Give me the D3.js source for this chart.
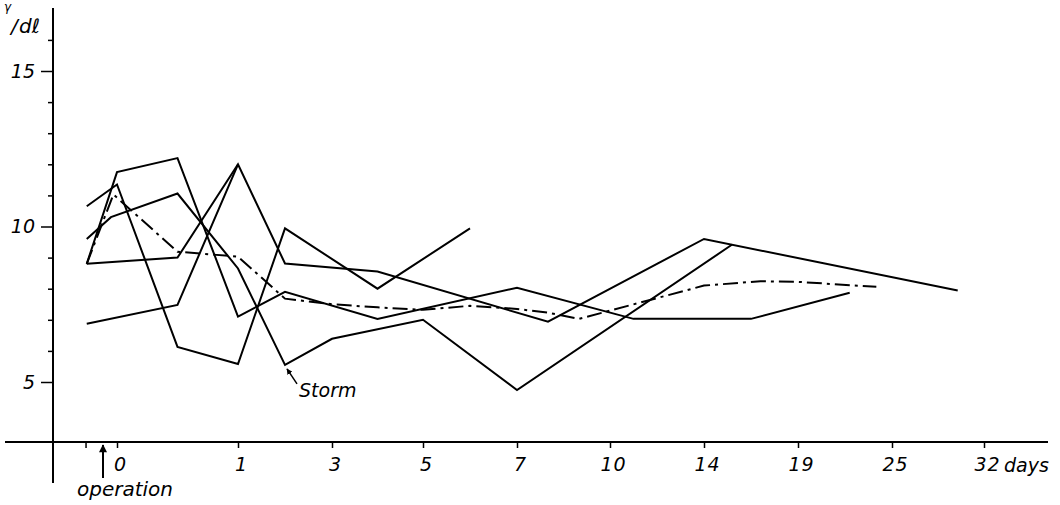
<!DOCTYPE html>
<html>
<head>
<meta charset="utf-8">
<script src="https://cdn.jsdelivr.net/npm/d3@7"></script>
<style>
  body { margin: 0; background: #fff; }
  svg text { font-family: "DejaVu Sans", sans-serif; font-style: italic; fill: #000; }
</style>
</head>
<body>
<div id="wrapper"></div>
<script>
// Axis ticks
const xTickDays = [0, 1, 3, 5, 7, 10, 14, 19, 25, 32]
const xTickLabels = ["0", "1", "3", "5", "7", "10", "14", "19", "25", "32"]
const yTickValues = [5, 6, 7, 8, 9, 10, 11, 12, 13, 14, 15, 16]
const yLabeled = [5, 10, 15]

// Series (day, value)
const daysA = [-0.25, 0, 0.5, 1, 2, 4, 7, 11, 16.5, 22.3]
const valsA = [8.8, 11.75, 12.2, 7.1, 7.9, 7.03, 8.03, 7.03, 7.03, 7.87]

const daysB = [-0.25, 0, 0.5, 1, 2, 4, 6]
const valsB = [10.65, 11.35, 6.13, 5.58, 9.94, 8.0, 9.94]

const daysStorm = [-0.25, -0.05, 0.5, 1, 2, 3, 5, 7, 15.5]
const valsStorm = [9.6, 10.3, 11.06, 8.65, 5.55, 6.39, 7.0, 4.74, 9.42]

const daysD = [-0.25, 0.5, 1, 2, 4, 8, 14, 30]
const valsD = [8.8, 9.0, 12.0, 8.81, 8.55, 6.94, 9.6, 7.94]

const daysE = [-0.25, 0.5, 1]
const valsE = [6.87, 7.48, 12.0]

const daysMean = [-0.25, -0.03, 0.5, 1, 2, 3, 4, 5, 6, 7, 8, 9, 14, 17, 19, 24]
const valsMean = [8.8, 11.03, 9.19, 9.03, 7.68, 7.5, 7.4, 7.32, 7.45, 7.35, 7.23, 7.03, 8.1, 8.24, 8.22, 8.06]

const stormDay = 2, stormVal = 5.55

async function drawChart() {
    const width = 1060, height = 505

    const wrapper = d3.select("#wrapper")
        .append("svg")
            .attr("width", width)
            .attr("height", height)

    // scales: the day axis is stretched unevenly between its labels
    const xScale = d3.scaleLinear()
        .domain(xTickDays)
        .range([117, 238, 332, 423, 517, 610, 704, 798, 892, 984])
    const yScale = d3.scaleLinear()
        .domain([5, 15])
        .range([382, 71])

    const axisY = 442, axisX = 53

    // x axis
    const xAxis = d3.axisBottom(xScale)
        .tickValues([-0.26].concat(xTickDays))
        .tickSize(6)
        .tickFormat(d => {
            const i = xTickDays.indexOf(d)
            return i < 0 ? "" : xTickLabels[i]
        })
    const gx = wrapper.append("g")
        .attr("transform", `translate(0,${axisY})`)
        .call(xAxis)
    gx.select(".domain").remove()
    gx.selectAll(".tick line").attr("stroke", "#000").attr("stroke-width", 1.5)
    gx.selectAll(".tick text")
        .attr("x", 3)
        .attr("y", 16)
        .attr("font-size", 19)
        .attr("letter-spacing", 1)
    wrapper.append("line")
        .attr("x1", 5).attr("x2", 1048)
        .attr("y1", axisY).attr("y2", axisY)
        .attr("stroke", "#000").attr("stroke-width", 2)
    wrapper.append("text")
        .attr("x", xScale(32) + 20)
        .attr("y", axisY + 30)
        .attr("font-size", 19)
        .text("days")

    // y axis
    const yAxis = d3.axisLeft(yScale)
        .tickValues(yTickValues)
        .tickSize(5)
        .tickFormat(d => yLabeled.includes(d) ? d : "")
    const gy = wrapper.append("g")
        .attr("transform", `translate(${axisX},0)`)
        .call(yAxis)
    gy.select(".domain").remove()
    gy.selectAll(".tick line")
        .attr("stroke", "#000")
        .attr("stroke-width", 1.5)
        .attr("x2", d => yLabeled.includes(d) ? -12 : -5)
    gy.selectAll(".tick text")
        .attr("x", -18)
        .attr("font-size", 19)
    wrapper.append("line")
        .attr("x1", axisX).attr("x2", axisX)
        .attr("y1", 8).attr("y2", 483)
        .attr("stroke", "#000").attr("stroke-width", 2)

    // unit label
    const unit = wrapper.append("text")
    unit.append("tspan").attr("x", 4).attr("y", 11).attr("font-size", 12).text("γ")
    unit.append("tspan").attr("x", 11).attr("y", 33).attr("font-size", 20).text("/")
    unit.append("tspan").attr("x", 19).attr("y", 33).attr("font-size", 20).text("dℓ")

    // data
    const lineGenerator = d3.line()
        .x(d => xScale(d[0]))
        .y(d => yScale(d[1]))

    const solid = [
        [daysA, valsA],
        [daysB, valsB],
        [daysStorm, valsStorm],
        [daysD, valsD],
        [daysE, valsE],
    ]
    solid.forEach(([ds, vs]) => {
        wrapper.append("path")
            .attr("d", lineGenerator(d3.zip(ds, vs)))
            .attr("fill", "none")
            .attr("stroke", "#000")
            .attr("stroke-width", 2)
            .attr("stroke-linejoin", "miter")
    })
    wrapper.append("path")
        .attr("d", lineGenerator(d3.zip(daysMean, valsMean)))
        .attr("fill", "none")
        .attr("stroke", "#000")
        .attr("stroke-width", 2)
        .attr("stroke-dasharray", "15 5 3 5")

    // arrow markers
    const defs = wrapper.append("defs")
    defs.append("marker")
        .attr("id", "head")
        .attr("viewBox", "0 0 10 10")
        .attr("refX", 9).attr("refY", 5)
        .attr("markerWidth", 6).attr("markerHeight", 6)
        .attr("markerUnits", "userSpaceOnUse")
        .attr("orient", "auto")
      .append("path")
        .attr("d", "M0,0 L10,5 L0,10 Z")
        .attr("fill", "#000")
    defs.append("marker")
        .attr("id", "bighead")
        .attr("viewBox", "0 0 10 10")
        .attr("refX", 9).attr("refY", 5)
        .attr("markerWidth", 11).attr("markerHeight", 8)
        .attr("markerUnits", "userSpaceOnUse")
        .attr("orient", "auto")
      .append("path")
        .attr("d", "M0,0 L10,5 L0,10 Z")
        .attr("fill", "#000")

    // Storm note
    const sx = xScale(stormDay), sy = yScale(stormVal)
    wrapper.append("line")
        .attr("x1", sx + 12).attr("y1", sy + 19)
        .attr("x2", sx + 2).attr("y2", sy + 4)
        .attr("stroke", "#000").attr("stroke-width", 1.5)
        .attr("marker-end", "url(#head)")
    wrapper.append("text")
        .attr("x", sx + 14)
        .attr("y", sy + 32)
        .attr("font-size", 19)
        .text("Storm")

    // operation note
    wrapper.append("line")
        .attr("x1", 103).attr("y1", 478)
        .attr("x2", 103).attr("y2", axisY + 3)
        .attr("stroke", "#000").attr("stroke-width", 2)
        .attr("marker-end", "url(#bighead)")
    wrapper.append("text")
        .attr("x", 77)
        .attr("y", 496)
        .attr("font-size", 20)
        .text("operation")
}

drawChart()
</script>
</body>
</html>
